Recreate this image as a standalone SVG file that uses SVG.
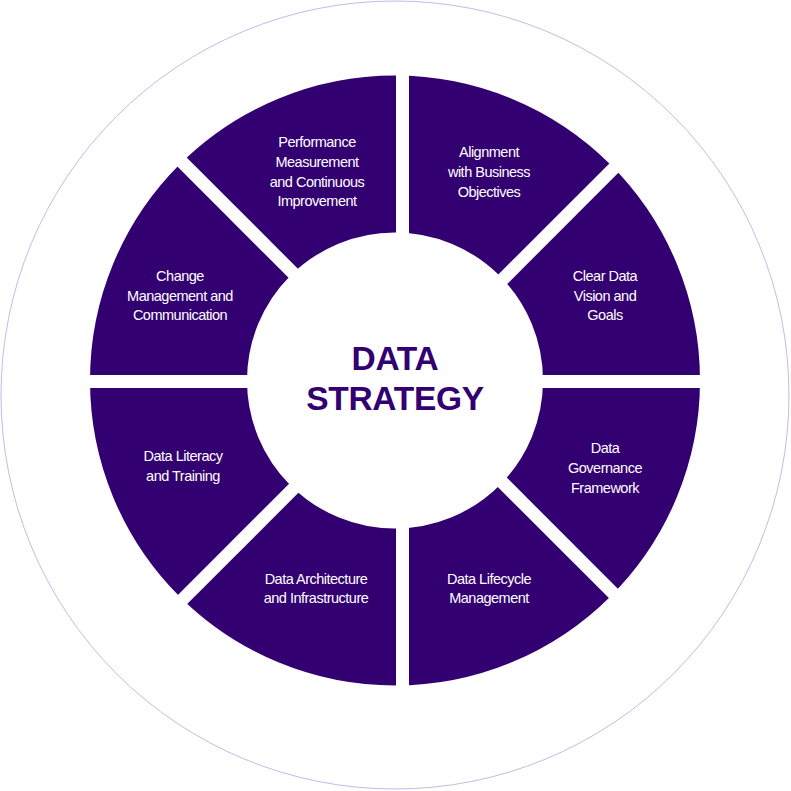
<svg xmlns="http://www.w3.org/2000/svg" width="791" height="791" viewBox="0 0 791 791">
<style>
.seg{fill:#330072}
.lbl{fill:#fff;font-family:"Liberation Sans",Arial,sans-serif;font-size:14.5px;text-anchor:middle;letter-spacing:-0.5px}
.title{fill:#330072;font-family:"Liberation Sans",Arial,sans-serif;font-size:33.5px;font-weight:bold;text-anchor:middle;letter-spacing:-0.3px}
</style>
<defs>
<mask id="gaps" maskUnits="userSpaceOnUse" x="0" y="0" width="791" height="791">
<rect width="791" height="791" fill="#fff"/>
<g stroke="#000" stroke-width="13">
<line x1="402.5" y1="40" x2="402.5" y2="740"/>
<line x1="40" y1="381.5" x2="760" y2="381.5"/>
<line x1="151" y1="131" x2="651" y2="631"/>
<line x1="651" y1="131" x2="151" y2="631"/>
</g>
</mask>
</defs>
<circle cx="395" cy="395" r="394" fill="#fff" stroke="#c9b8e6" stroke-width="1"/>
<g mask="url(#gaps)">
<g id="n-alignment"><path class="seg" d="M395,75.5 A305,305 0 0 1 610.7,164.8 L499.7,275.8 A148,148 0 0 0 395,232.5 Z"/></g>
<g id="n-vision"><path class="seg" d="M610.7,164.8 A305,305 0 0 1 700,380.5 L543,380.5 A148,148 0 0 0 499.7,275.8 Z"/></g>
<g id="n-governance"><path class="seg" d="M700,380.5 A305,305 0 0 1 610.7,596.2 L499.7,485.2 A148,148 0 0 0 543,380.5 Z"/></g>
<g id="n-lifecycle"><path class="seg" d="M610.7,596.2 A305,305 0 0 1 395,685.5 L395,528.5 A148,148 0 0 0 499.7,485.2 Z"/></g>
<g id="n-architecture"><path class="seg" d="M395,685.5 A305,305 0 0 1 179.3,596.2 L290.3,485.2 A148,148 0 0 0 395,528.5 Z"/></g>
<g id="n-literacy"><path class="seg" d="M179.3,596.2 A305,305 0 0 1 90,380.5 L247,380.5 A148,148 0 0 0 290.3,485.2 Z"/></g>
<g id="n-change"><path class="seg" d="M90,380.5 A305,305 0 0 1 179.3,164.8 L290.3,275.8 A148,148 0 0 0 247,380.5 Z"/></g>
<g id="n-performance"><path class="seg" d="M179.3,164.8 A305,305 0 0 1 395,75.5 L395,232.5 A148,148 0 0 0 290.3,275.8 Z"/></g>
</g>
<g id="labels">
<text class="lbl" x="317" y="147">Performance<tspan x="317" y="167">Measurement</tspan><tspan x="317" y="187">and Continuous</tspan><tspan x="317" y="206">Improvement</tspan></text>
<text class="lbl" x="489" y="157">Alignment<tspan x="489" y="177">with Business</tspan><tspan x="489" y="197">Objectives</tspan></text>
<text class="lbl" x="605" y="281">Clear Data<tspan x="605" y="301">Vision and</tspan><tspan x="605" y="320">Goals</tspan></text>
<text class="lbl" x="605" y="453">Data<tspan x="605" y="473">Governance</tspan><tspan x="605" y="493">Framework</tspan></text>
<text class="lbl" x="489" y="584">Data Lifecycle<tspan x="489" y="603">Management</tspan></text>
<text class="lbl" x="316" y="584">Data Architecture<tspan x="316" y="603">and Infrastructure</tspan></text>
<text class="lbl" x="183" y="461">Data Literacy<tspan x="183" y="481">and Training</tspan></text>
<text class="lbl" x="180" y="281">Change<tspan x="180" y="301">Management and</tspan><tspan x="180" y="320">Communication</tspan></text>
</g>
<g id="center">
<text class="title" x="395" y="370">DATA</text>
<text class="title" x="395" y="410">STRATEGY</text>
</g>
</svg>
